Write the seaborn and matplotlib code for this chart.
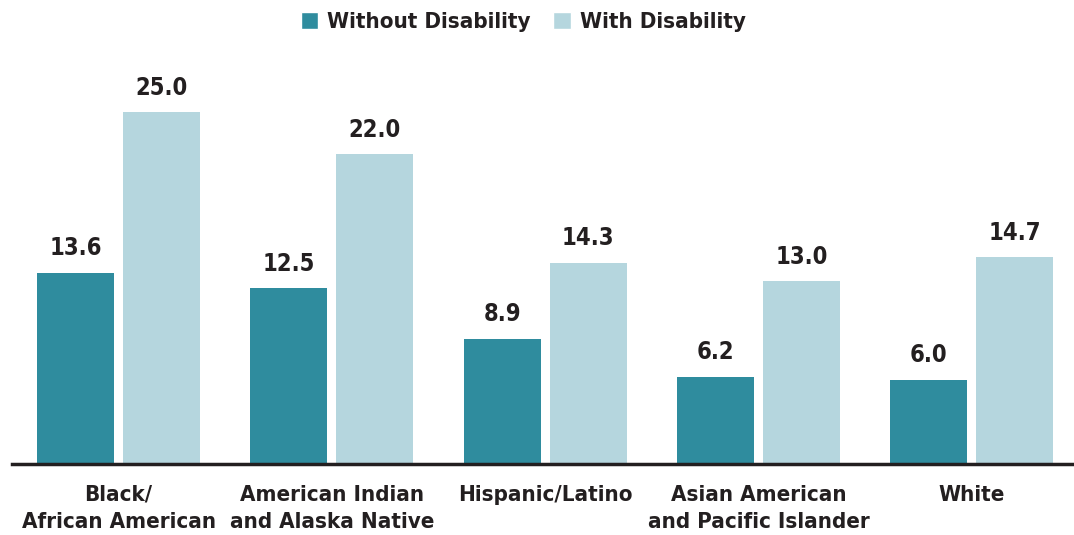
import matplotlib
matplotlib.use("Agg")
import matplotlib.pyplot as plt
import seaborn as sns
import pandas as pd
from matplotlib.patches import Patch

# data
groups = ["Black/\nAfrican American", "American Indian\nand Alaska Native",
          "Hispanic/Latino", "Asian American\nand Pacific Islander", "White"]
series = ["Without Disability", "With Disability"]
without_dis = [13.6, 12.5, 8.9, 6.2, 6.0]
with_dis = [25.0, 22.0, 14.3, 13.0, 14.7]

colors = ["#2F8C9E", "#B5D6DE"]
text_color = "#231F20"

df = pd.DataFrame({
    "group": groups * 2,
    "series": [series[0]] * len(groups) + [series[1]] * len(groups),
    "value": without_dis + with_dis,
})

sns.set_style("white")
plt.rcParams["font.family"] = ["DejaVu Sans"]
plt.rcParams["font.stretch"] = "condensed"
plt.rcParams["font.weight"] = "bold"

fig = plt.figure(figsize=(10.74, 5.35), dpi=100)
ax = fig.add_axes([12 / 1074, 71 / 535, 1 - 12 / 1074, (464 - 60) / 535])

sns.barplot(data=df, x="group", y="value", hue="series", order=groups,
            hue_order=series, palette=colors, width=0.806, gap=0.105,
            saturation=1, linewidth=0, ax=ax, legend=False)

for cont in ax.containers:
    ax.bar_label(cont, fmt="%.1f", padding=9, fontsize=17,
                 color=text_color, fontweight="bold")

ax.set_xlim(-0.5, 4.48)
ax.set_ylim(0, 28.7)
ax.set_xlabel("")
ax.set_ylabel("")
ax.set_yticks([])
ax.tick_params(axis="x", length=0, pad=15, labelsize=16, colors=text_color)
for lbl in ax.get_xticklabels():
    lbl.set_fontweight("bold")
    lbl.set_linespacing(1.45)
    lbl.set_verticalalignment("top")

for side in ["top", "right", "left"]:
    ax.spines[side].set_visible(False)
ax.spines["bottom"].set_color(text_color)
ax.spines["bottom"].set_linewidth(2.5)

handles = [Patch(facecolor=c, label=s) for c, s in zip(colors, series)]
fig.legend(handles=handles, loc="center", bbox_to_anchor=(523 / 1074, 1 - 22 / 535),
           ncol=2, frameon=False, fontsize=16, handlelength=0.8, handleheight=0.8,
           handletextpad=0.4, columnspacing=1.0, labelcolor=text_color)

fig.savefig("out.png", dpi=100)
